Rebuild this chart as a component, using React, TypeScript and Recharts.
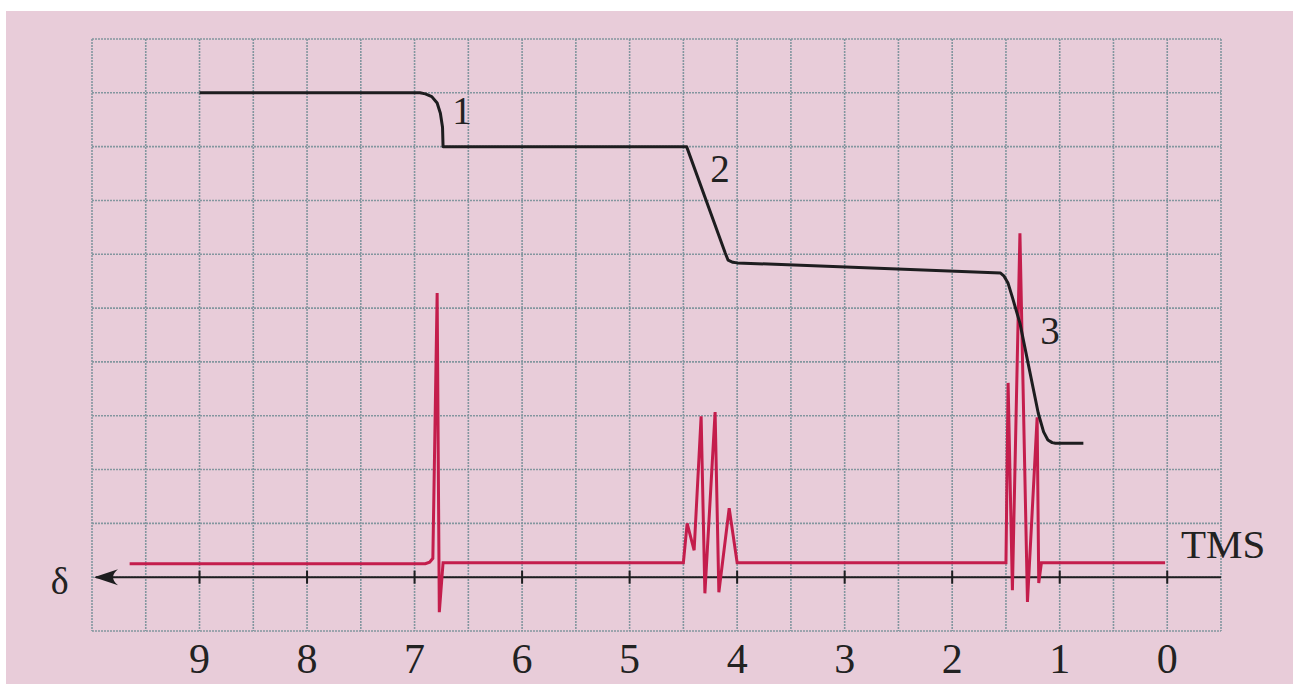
import { LineChart, Line, XAxis, YAxis, CartesianGrid, ReferenceLine, ReferenceDot } from "recharts";

// chemical shift grid (ppm) and chart-paper rows
const gridPpm = [10, 9.5, 9, 8.5, 8, 7.5, 7, 6.5, 6, 5.5, 5, 4.5, 4, 3.5, 3, 2.5, 2, 1.5, 1, 0.5, 0, -0.5];
const gridRows = [-1, 0, 1, 2, 3, 4, 5, 6, 7, 8, 9, 10];
const axisTicks = [9, 8, 7, 6, 5, 4, 3, 2, 1, 0];

// spectrum trace
const specPpm = [9.65, 6.9, 6.86, 6.83, 6.79, 6.77, 6.735, 4.5, 4.465, 4.4, 4.335, 4.3, 4.205, 4.17, 4.074, 4.0, 1.5, 1.48, 1.44, 1.37, 1.3, 1.21, 1.195, 1.17, 0.02];
const specAmp = [0.25, 0.25, 0.28, 0.35, 5.28, -0.65, 0.27, 0.27, 1.0, 0.5, 2.99, -0.3, 3.07, -0.28, 1.28, 0.27, 0.27, 3.61, -0.24, 6.39, -0.46, 2.97, -0.11, 0.27, 0.27];

// integral trace
const intPpm = [9.0, 6.95, 6.9, 6.84, 6.79, 6.76, 6.74, 6.735, 4.47, 4.11, 4.084, 4.04, 4.0, 1.55, 1.52, 1.48, 1.44, 1.37, 1.2, 1.15, 1.11, 1.07, 1.04, 0.78];
const intLevel = [9.0, 9.0, 8.98, 8.93, 8.81, 8.62, 8.36, 8.0, 8.0, 6.02, 5.89, 5.85, 5.84, 5.65, 5.6, 5.46, 5.2, 4.72, 3.05, 2.7, 2.55, 2.5, 2.49, 2.49];

// integral step labels
const stepLabels = ["1", "2", "3"];
const stepPpm = [6.56, 4.16, 1.09];
const stepY = [8.68, 7.6, 4.59];

const specData = specPpm.map((x, i) => ({ x, y: specAmp[i] }));
const intData = intPpm.map((x, i) => ({ x, y: intLevel[i] }));

const serif = "'Liberation Serif', 'DejaVu Serif', serif";
const ink = "#1d1d1f";

function AxisArrow(props: any) {
  const { x1, y1, x2 } = props;
  const left = Math.min(x1, x2);
  const right = Math.max(x1, x2);
  const y = y1;
  return (
    <g>
      <line x1={left + 4} y1={y} x2={right} y2={y} stroke={ink} strokeWidth={2} />
      <path
        d={`M ${left + 2} ${y} L ${left + 26} ${y - 8} Q ${left + 16} ${y} ${left + 26} ${y + 8} Z`}
        fill={ink}
      />
    </g>
  );
}

function textLabel(value: string, size: number) {
  return {
    value,
    position: "center" as const,
    fontSize: size,
    fontFamily: serif,
    fill: "#222",
  };
}

export default function App() {
  return (
    <div style={{ position: "absolute", left: 0, top: 0, width: 1293, height: 684, background: "#fff" }}>
      <div style={{ position: "absolute", left: 6, top: 11, width: 1287, height: 673, background: "#e8ccd9" }} />
      <div style={{ position: "absolute", left: 0, top: 0 }}>
        <LineChart width={1293} height={684} margin={{ top: 39, right: 72, bottom: 0, left: 92 }}>
          <CartesianGrid stroke="#83969f" strokeWidth={1.6} strokeDasharray="2 1" />
          <XAxis
            dataKey="x"
            type="number"
            domain={[-0.5, 10]}
            reversed
            ticks={gridPpm}
            interval={0}
            height={53}
            axisLine={false}
            tickLine={false}
            tickMargin={6}
            tickFormatter={(v: number) => (axisTicks.includes(v) ? String(v) : "")}
            tick={{ fontSize: 42, fontFamily: serif, fill: "#222" }}
            allowDataOverflow
          />
          <YAxis
            type="number"
            domain={[-1, 10]}
            ticks={gridRows}
            interval={0}
            width={0}
            axisLine={false}
            tickLine={false}
            tick={{ fill: "transparent", fontSize: 1 }}
            allowDataOverflow
          />
          <ReferenceLine y={0} shape={AxisArrow} ifOverflow="visible" />
          {axisTicks.map((t) => (
            <ReferenceLine
              key={t}
              segment={[{ x: t, y: -0.12 }, { x: t, y: 0.12 }]}
              stroke={ink}
              strokeWidth={2}
            />
          ))}
          <Line
            data={specData}
            dataKey="y"
            type="linear"
            stroke="#c41d4c"
            strokeWidth={3}
            strokeLinejoin="miter"
            dot={false}
            isAnimationActive={false}
          />
          <Line
            data={intData}
            dataKey="y"
            type="linear"
            stroke={ink}
            strokeWidth={3}
            strokeLinejoin="round"
            dot={false}
            isAnimationActive={false}
          />
          {stepLabels.map((s, i) => (
            <ReferenceDot key={s} x={stepPpm[i]} y={stepY[i]} r={0} stroke="none" fill="none" label={textLabel(s, 39)} />
          ))}
          <ReferenceDot x={-0.52} y={0.63} r={0} stroke="none" fill="none" ifOverflow="visible" label={textLabel("TMS", 41)} />
          <ReferenceDot x={10.3} y={-0.06} r={0} stroke="none" fill="none" ifOverflow="visible" label={textLabel("δ", 38)} />
        </LineChart>
      </div>
    </div>
  );
}
